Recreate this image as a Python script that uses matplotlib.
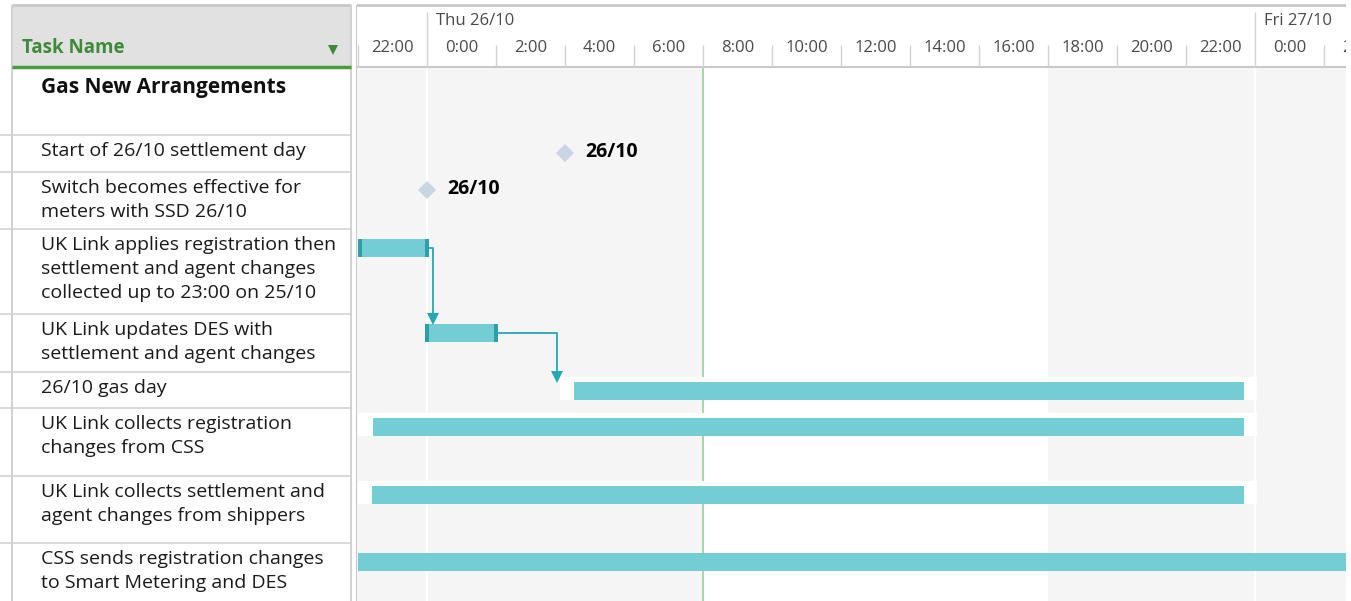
import matplotlib.pyplot as plt
from matplotlib.patches import Rectangle

plt.rcParams['font.family'] = ['Open Sans', 'DejaVu Sans']

W, H = 1351, 601

# task table (row 0 is the summary task)
task_names = [
    "Gas New Arrangements",
    "Start of 26/10 settlement day",
    "Switch becomes effective for\nmeters with SSD 26/10",
    "UK Link applies registration then\nsettlement and agent changes\ncollected up to 23:00 on 25/10",
    "UK Link updates DES with\nsettlement and agent changes",
    "26/10 gas day",
    "UK Link collects registration\nchanges from CSS",
    "UK Link collects settlement and\nagent changes from shippers",
    "CSS sends registration changes\nto Smart Metering and DES",
]

# all times in hours from Thu 26/10 0:00
milestone_rows = [1, 2]
milestone_hours = [4.0, 0.0]
milestone_labels = ["26/10", "26/10"]

bar_rows = [3, 4, 5, 6, 7, 8]
bar_starts = [-2.0, -0.06, 4.25, -1.57, -1.6, -2.0]
bar_ends = [0.06, 2.06, 23.68, 23.68, 23.68, 27.0]
capped_rows = [3, 4]

slack_rows = [5, 6, 7]
slack_starts = [3.85, -2.0, -2.0]
slack_ends = [24.05, 24.05, 24.05]

link_from = [3, 4]
link_to = [4, 5]
link_drop = [0.17, 3.77]

hour_ticks = list(range(-2, 28, 2))
hour_labels = ["22:00", "0:00", "2:00", "4:00", "6:00", "8:00", "10:00", "12:00",
               "14:00", "16:00", "18:00", "20:00", "22:00", "0:00", "2:00"]
day_hours = [0, 24]
day_labels = ["Thu 26/10", "Fri 27/10"]
work_start, work_end = 8, 18
status_hour = 8

# layout (pixels from top)
row_tops = [68, 135, 172, 229, 314, 372, 408, 476, 543, 601]
px_per_hour = 34.5
x0_px = 427  # Thu 0:00
chart_left, chart_right = 357, 1346
x_lo = (chart_left - x0_px) / px_per_hour
x_hi = (chart_right - x0_px) / px_per_hour

teal = '#74CDD5'
teal_dark = '#2C9FA9'
link_col = '#25A8B5'
grid_col = '#D2D2D2'


def frac(x0, y0, x1, y1):
    return [x0 / W, 1 - y1 / H, (x1 - x0) / W, (y1 - y0) / H]


fig = plt.figure(figsize=(W / 100, H / 100), dpi=100)

# ---- task name table
tbl = fig.add_axes(frac(0, 0, chart_left, H))
tbl.set_xlim(0, chart_left)
tbl.set_ylim(H, 0)
tbl.axis('off')
tbl.add_patch(Rectangle((12, 5), 339, 62, color='#E1E1E1', lw=0))
tbl.text(22, 48, "Task Name", fontsize=13.5, fontweight='bold', color='#3E8A3A',
         va='center', ha='left')
tbl.plot(333, 50, marker='v', ms=7, color='#3E8A3A', mew=0)
tbl.hlines(5, 12, 351, color='#C8C8C8', lw=2)
tbl.hlines(row_tops[1:-1], 0, 351, color=grid_col, lw=1.2)
tbl.vlines([12, 351], 5, H, color=grid_col, lw=1.5)
tbl.vlines(chart_left - 0.5, 5, H, color='#C8C8C8', lw=1.5)
tbl.hlines(67, 12, 351, color='#4A9A3F', lw=2.5)

for i, name in enumerate(task_names):
    if i == 0:
        tbl.text(41, row_tops[i] + 19, name, fontsize=15, fontweight='bold',
                 color='#111111', va='center', ha='left')
        continue
    for j, line in enumerate(name.split("\n")):
        tbl.text(41, row_tops[i] + 16 + 24 * j, line, fontsize=14,
                 color='#1A1A1A', va='center', ha='left')

# ---- timescale header
hdr = fig.add_axes(frac(chart_left, 0, chart_right, 68))
hdr.set_xlim(x_lo, x_hi)
hdr.set_ylim(68, 0)
hdr.axis('off')
hdr.axhline(5, color='#C8C8C8', lw=2)
hdr.axhline(67, color='#C8C8C8', lw=1.5)
minor = [h for h in hour_ticks if h not in day_hours]
hdr.vlines(minor, 45, 67, color=grid_col, lw=1)
hdr.vlines(day_hours, 12, 67, color=grid_col, lw=1)
for h, lab in zip(hour_ticks, hour_labels):
    hdr.text(h + 1, 48, lab, fontsize=12, color='#4A4A4A', ha='center', va='center',
             clip_on=True)
for h, lab in zip(day_hours, day_labels):
    hdr.text(h + 0.26, 21, lab, fontsize=12, color='#4A4A4A', ha='left', va='center',
             clip_on=True)

# ---- gantt body
ax = fig.add_axes(frac(chart_left, 68, chart_right, H))
ax.set_xlim(x_lo, x_hi)
ax.set_ylim(H, 68)
ax.axis('off')
ax.add_patch(Rectangle((x_lo, 68), x_hi - x_lo, H - 68, color='#F5F5F5', lw=0, zorder=0))
ax.axvspan(work_start, work_end, color='white', lw=0, zorder=0.5)
for d in day_hours:
    ax.axvline(d, color='white', lw=1.5, zorder=0.6)
ax.axvline(status_hour, color='#98D098', lw=1.2, zorder=0.7)

for r, s, e in zip(slack_rows, slack_starts, slack_ends):
    ax.barh(row_tops[r] + 16.5, e - s, left=s, height=23, color='white', zorder=1)

bar_end_of = {}
for r, s, e in zip(bar_rows, bar_starts, bar_ends):
    ax.barh(row_tops[r] + 19, e - s, left=s, height=18, color=teal, zorder=2)
    bar_end_of[r] = e
    if r in capped_rows:
        ax.barh(row_tops[r] + 19, 0.12, left=s, height=18, color=teal_dark, zorder=3)
        ax.barh(row_tops[r] + 19, 0.12, left=e - 0.12, height=18, color=teal_dark, zorder=3)

for a, b, xd in zip(link_from, link_to, link_drop):
    yc = row_tops[a] + 19
    tip = row_tops[b] + 8
    ax.plot([bar_end_of[a], xd, xd], [yc, yc, tip - 4], color=link_col, lw=1.3, zorder=4)
    ax.plot(xd, tip - 3.5, marker='v', ms=9, color=link_col, mew=0, zorder=4)

for r, h, lab in zip(milestone_rows, milestone_hours, milestone_labels):
    y = row_tops[r] + 18
    ax.plot(h, y, marker='D', ms=9.5, color='#C9D5E4', mew=0, zorder=3)
    ax.text(h + 0.58, y - 1, lab, fontsize=14, fontweight='bold', color='black',
            ha='left', va='center', zorder=3)

fig.savefig('out.png', dpi=100)
